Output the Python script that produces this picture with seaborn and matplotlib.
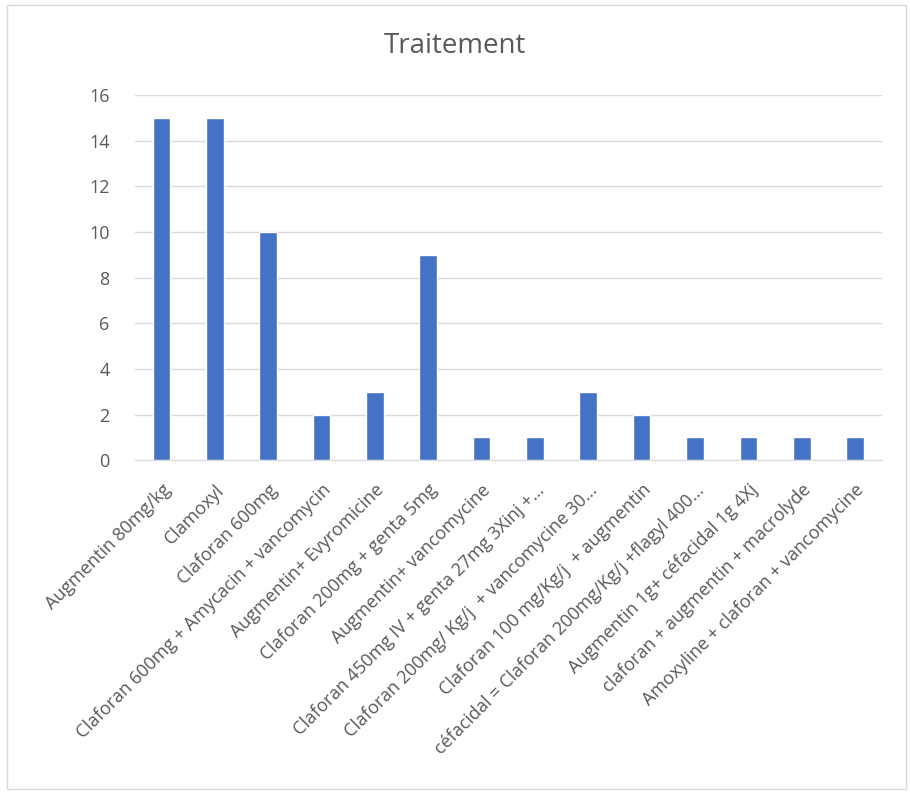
import numpy as np
import pandas as pd
import matplotlib
matplotlib.use('Agg')
import matplotlib.pyplot as plt
import seaborn as sns

traitements = [
    'Augmentin 80mg/kg',
    'Clamoxyl',
    'Claforan 600mg',
    'Claforan 600mg + Amycacin + vancomycin',
    'Augmentin+ Evyromicine',
    'Claforan 200mg + genta 5mg',
    'Augmentin+ vancomycine',
    'Claforan 450mg IV + genta 27mg 3Xinj +…',
    'Claforan 200mg/ Kg/j  + vancomycine 30…',
    'Claforan 100 mg/Kg/j  + augmentin',
    'céfacidal = Claforan 200mg/Kg/j +flagyl 400…',
    'Augmentin 1g+ céfacidal 1g 4Xj',
    'claforan + augmentin + macrolyde',
    'Amoxyline + claforan + vancomycine',
]
effectifs = [15, 15, 10, 2, 3, 9, 1, 1, 3, 2, 1, 1, 1, 1]

df = pd.DataFrame({'Traitement': traitements, 'Effectif': effectifs})

sns.set_style('white')
plt.rcParams['font.family'] = ['Open Sans', 'DejaVu Sans']

fig = plt.figure(figsize=(9.1, 7.92), dpi=100)
ax = fig.add_axes([0.148, 0.419, 0.821, 0.461])
sns.barplot(data=df, x='Traitement', y='Effectif', color='#4472C4', width=0.33, saturation=1, ax=ax)

ax.set_ylim(0, 16)
ax.set_yticks(range(0, 17, 2))
ax.yaxis.grid(True, color='#D9D9D9', linewidth=1)
ax.set_axisbelow(True)
for s in ['top', 'right', 'left']:
    ax.spines[s].set_visible(False)
ax.spines['bottom'].set_color('#D9D9D9')
ax.tick_params(axis='y', length=0, colors='#595959', labelsize=13, pad=18)
ax.tick_params(axis='x', length=0, colors='#595959', labelsize=13, pad=15)
ax.set_xticks(range(len(traitements)))
ax.set_xticklabels(traitements, rotation=45, ha='right', rotation_mode='anchor')
ax.set_xlabel('')
ax.set_ylabel('')
ax.set_xlim(-0.5, len(traitements) - 0.5)
fig.suptitle('Traitement', x=0.5, y=0.96, fontsize=20, color='#595959')

fig.patches.append(plt.Rectangle((0.008, 0.004), 0.988, 0.99, transform=fig.transFigure,
                                 fill=False, edgecolor='#D9D9D9', linewidth=1))
fig.savefig('out.png', dpi=100)
